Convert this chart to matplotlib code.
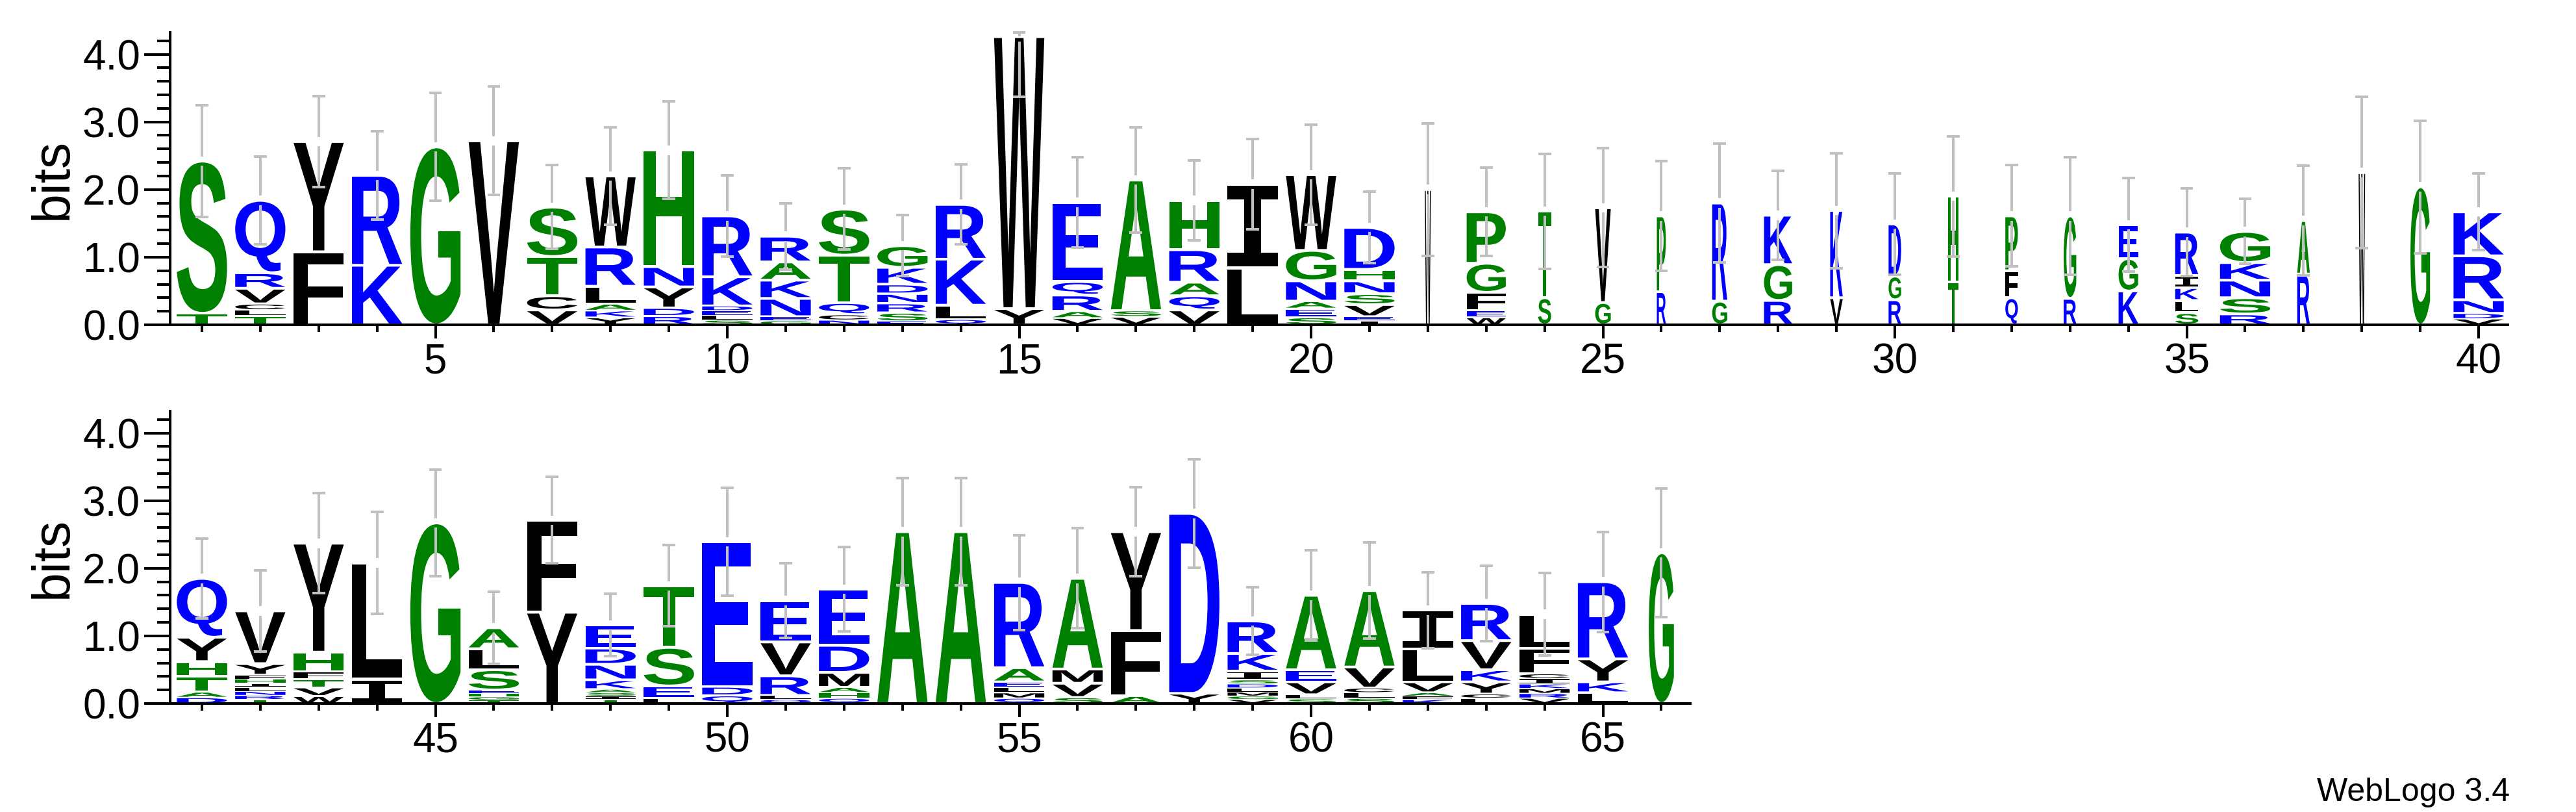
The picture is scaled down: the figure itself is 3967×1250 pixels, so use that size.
import numpy as np
import matplotlib
matplotlib.use('Agg')
import matplotlib.pyplot as plt
from matplotlib.textpath import TextPath
from matplotlib.font_manager import FontProperties
from matplotlib.patches import PathPatch
from matplotlib.transforms import Affine2D
from matplotlib.ticker import FixedLocator, MultipleLocator, FormatStrFormatter

plt.rcParams['font.family'] = ['Liberation Sans', 'DejaVu Sans']

# one entry per position 1..66, letters listed bottom -> top
stack_letters = [
    "TS", "TLCVRQ", "FY", "KR", "G", "V", "VCTS", "YKALRW", "RDYNH", "SLEDKR",
    "GENKAR", "NCQTS", "ESRNDKG", "QLKR", "YW", "VARQE", "VSA", "VQARH", "LI", "SEANGW",
    "IEVSNHD", "W", "WEFGP", "ST", "GV", "RP", "GR", "RGK", "VK", "RGD",
    "TH", "QFP", "RG", "KGE", "SLKIR", "RSNKG", "RA", "W", "G", "VDNRK",
    "DATHYQ", "TRNLIHFYV", "WVTFHY", "IL", "G", "TGHESLA", "YF", "TISAKNDE", "LEST", "QDE",
    "QLRVE", "QHAMDE", "A", "A", "QMLEAR", "SVMA", "AFY", "YD", "VGMLDSIKR", "SLVEA",
    "SLCVA", "KFAVLI", "LCYKVR", "VRMKICFL", "LKYR", "G",
]

# bits for each letter, same order as above
stack_heights = [
    [0.17, 2.25], [0.13, 0.09, 0.09, 0.23, 0.23, 1.07], [1.08, 1.63], [0.88, 1.33], [2.63],
    [2.72], [0.22, 0.21, 0.58, 0.73], [0.11, 0.10, 0.10, 0.26, 0.58, 1.05],
    [0.13, 0.12, 0.31, 0.30, 1.72], [0.07, 0.07, 0.07, 0.07, 0.43, 0.90],
    [0.06, 0.06, 0.27, 0.27, 0.27, 0.38], [0.07, 0.08, 0.18, 0.70, 0.68],
    [0.05, 0.13, 0.14, 0.14, 0.14, 0.25, 0.32], [0.08, 0.21, 0.68, 0.81], [0.24, 4.02],
    [0.10, 0.10, 0.24, 0.20, 1.17], [0.12, 0.09, 1.93], [0.22, 0.21, 0.20, 0.48, 0.73],
    [0.84, 1.24], [0.11, 0.13, 0.11, 0.30, 0.45, 1.12],
    [0.06, 0.06, 0.18, 0.16, 0.19, 0.17, 0.62], [2.00], [0.11, 0.10, 0.27, 0.43, 0.76],
    [0.40, 1.28], [0.33, 1.40], [0.49, 1.12], [0.35, 1.45], [0.36, 0.53, 0.73],
    [0.40, 1.29], [0.37, 0.35, 0.77], [0.63, 1.27], [0.40, 0.40, 0.81], [0.39, 1.22],
    [0.50, 0.48, 0.50], [0.18, 0.18, 0.19, 0.18, 0.64], [0.16, 0.24, 0.26, 0.26, 0.46],
    [0.75, 0.79], [2.25], [2.04], [0.09, 0.08, 0.20, 0.65, 0.65],
    [0.09, 0.08, 0.23, 0.22, 0.36, 0.87], [0.06, 0.06, 0.06, 0.06, 0.06, 0.06, 0.06, 0.17, 0.78],
    [0.11, 0.13, 0.12, 0.11, 0.29, 1.61], [0.36, 1.72], [2.67],
    [0.05, 0.05, 0.05, 0.05, 0.30, 0.31, 0.31], [1.35, 1.36],
    [0.06, 0.05, 0.05, 0.05, 0.14, 0.23, 0.24, 0.34], [0.08, 0.18, 0.57, 0.91],
    [0.12, 0.13, 2.14], [0.06, 0.06, 0.29, 0.50, 0.61], [0.08, 0.08, 0.08, 0.22, 0.40, 0.83],
    [2.54], [2.54], [0.08, 0.08, 0.08, 0.08, 0.21, 1.26], [0.09, 0.21, 0.21, 1.34],
    [0.11, 0.97, 1.46], [0.15, 2.66], [0.06, 0.05, 0.06, 0.06, 0.06, 0.06, 0.13, 0.26, 0.48],
    [0.07, 0.06, 0.19, 0.18, 1.10], [0.08, 0.08, 0.07, 0.31, 1.13],
    [0.06, 0.05, 0.05, 0.16, 0.49, 0.57], [0.08, 0.06, 0.18, 0.18, 0.43, 0.55],
    [0.08, 0.07, 0.07, 0.07, 0.08, 0.07, 0.38, 0.50], [0.16, 0.16, 0.34, 1.14], [2.23],
]

# half-length of the error bar (bits) per position
error_bits = [
    0.83, 0.65, 0.67, 0.65, 0.80, 0.80, 0.62, 0.72, 0.72, 0.60,
    0.49, 0.60, 0.45, 0.59, 0.89, 0.67, 0.78, 0.59, 0.67, 0.74,
    0.53, 0.98, 0.65, 0.85, 0.88, 0.81, 0.88, 0.66, 0.85, 0.75,
    0.89, 0.75, 0.87, 0.69, 0.65, 0.48, 0.81, 1.12, 0.98, 0.57,
    0.59, 0.60, 0.74, 0.75, 0.79, 0.53, 0.64, 0.46, 0.60, 0.80,
    0.55, 0.62, 0.79, 0.79, 0.70, 0.74, 0.66, 0.80, 0.50, 0.67,
    0.71, 0.56, 0.56, 0.61, 0.74, 0.95,
]

# columns drawn narrower (fraction of full width), all others are full
narrow_cols = {22: 0.12, 23: 0.78, 24: 0.26, 25: 0.31, 26: 0.18, 27: 0.30, 28: 0.56,
               29: 0.25, 30: 0.25, 31: 0.20, 32: 0.25, 33: 0.25, 34: 0.39, 35: 0.46,
               37: 0.25, 38: 0.13, 39: 0.39, 66: 0.50}

rows = [(1, 40), (41, 66)]

# hydrophobicity colour scheme
colors = {}
for c in "RKDENQ":
    colors[c] = '#0000ff'
for c in "SGHTAP":
    colors[c] = '#008000'
for c in "YVMCLFIW":
    colors[c] = '#000000'

ymax = np.log2(20)
grey = '#c0c0c0'
full_w = 0.86

fp_letter = FontProperties(family='Liberation Sans', weight='bold')
fp_i = FontProperties(family='DejaVu Sans Mono', weight='bold')
glyphs = {}


def glyph(ch):
    if ch not in glyphs:
        glyphs[ch] = TextPath((0, 0), ch, size=1, prop=fp_i if ch == 'I' else fp_letter)
    return glyphs[ch]


def draw_letter(ax, ch, x, y0, w, h):
    pad = min(0.02, 0.12 * h)
    p = glyph(ch)
    bb = p.get_extents()
    tr = Affine2D().translate(-bb.x0, -bb.y0) \
        .scale(w / bb.width, (h - 2 * pad) / bb.height) \
        .translate(x - w / 2, y0 + pad)
    ax.add_patch(PathPatch(tr.transform_path(p), facecolor=colors[ch],
                           edgecolor='none', lw=0, zorder=2))


def draw_errbar(ax, x, top, err):
    lo = top - err
    hi = min(top + err, ymax)
    gap = 0.07
    kw = dict(color=grey, lw=2.9, solid_capstyle='butt', clip_on=False, zorder=3)
    ax.plot([x, x], [lo, top - gap], **kw)
    if top + gap < hi:
        ax.plot([x, x], [top + gap, hi], **kw)
    else:
        ax.plot([x, x], [top, hi], **kw)
    for yy in (lo, hi):
        ax.plot([x - 0.11, x + 0.11], [yy, yy], **kw)


fig = plt.figure(figsize=(39.67, 12.5), dpi=100)

px_w = 3967.0
left = 266 / px_w
unit = 89.9 / px_w
bottoms = [0.6, 0.1336]

for (first, last), bottom in zip(rows, bottoms):
    ncol = last - first + 1
    ax = fig.add_axes([left, bottom, ncol * unit, 0.36])

    for pos in range(first, last + 1):
        letters = stack_letters[pos - 1]
        heights = stack_heights[pos - 1]
        w = full_w * narrow_cols.get(pos, 1.0)
        y = 0.0
        for ch, h in zip(letters, heights):
            draw_letter(ax, ch, pos, y, w, h)
            y += h
        draw_errbar(ax, pos, y, error_bits[pos - 1])

    ax.set_xlim(first - 0.5, last + 0.5)
    ax.set_ylim(0, ymax)

    majors = [p for p in range(first, last + 1) if p % 5 == 0]
    minors = [p for p in range(first, last + 1) if p % 5 != 0]
    ax.xaxis.set_major_locator(FixedLocator(majors))
    ax.xaxis.set_minor_locator(FixedLocator(minors))
    ax.yaxis.set_major_locator(MultipleLocator(1.0))
    ax.yaxis.set_minor_locator(MultipleLocator(0.2))
    ax.yaxis.set_major_formatter(FormatStrFormatter('%.1f'))

    ax.tick_params(axis='x', which='major', length=15, width=2.9, labelsize=46, pad=5)
    ax.tick_params(axis='x', which='minor', length=8, width=2.9)
    ax.tick_params(axis='y', which='major', length=29, width=2.9, labelsize=46, pad=4)
    ax.tick_params(axis='y', which='minor', length=14.4, width=2.9)

    for s in ('top', 'right'):
        ax.spines[s].set_visible(False)
    for s in ('left', 'bottom'):
        ax.spines[s].set_linewidth(2.9)
    ax.spines['left'].set_position(('outward', 3))

    ymid = bottom + 0.18
    fig.text(103 / px_w, ymid, 'bits', rotation=90, rotation_mode='anchor',
             ha='center', va='baseline', fontsize=58)

fig.text(3865 / px_w, 17 / 1250, 'WebLogo 3.4', ha='right', va='baseline', fontsize=36)

fig.savefig('out.png', dpi=100)
